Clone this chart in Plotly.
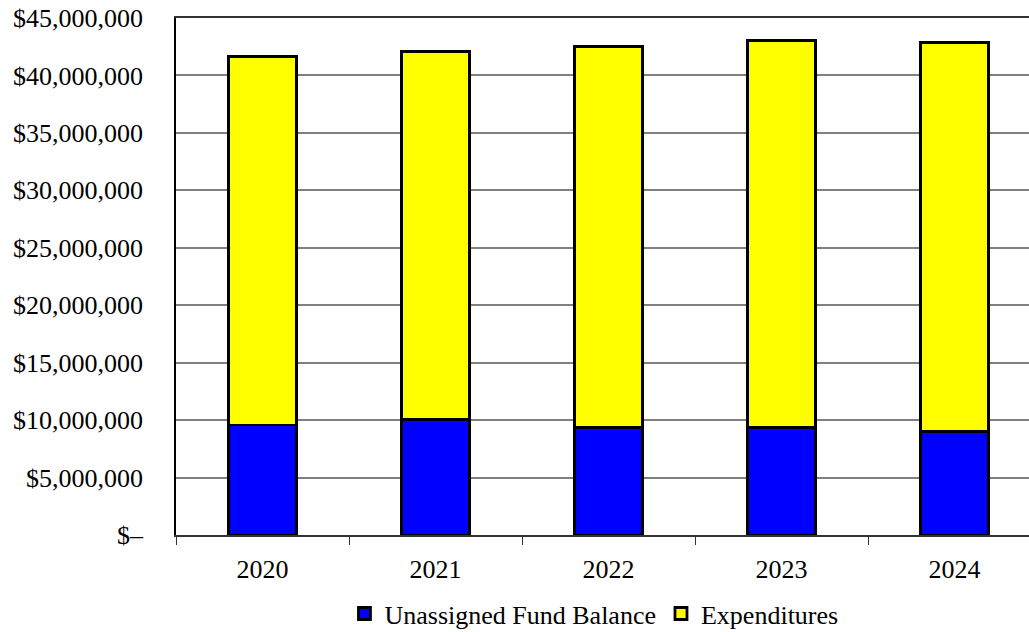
import plotly.graph_objects as go

years = ["2020", "2021", "2022", "2023", "2024"]
fund_balance = [9570000, 10060000, 9390000, 9390000, 9020000]
expenditures = [32110000, 32050000, 33160000, 33630000, 33820000]

tick_vals = [0, 5e6, 10e6, 15e6, 20e6, 25e6, 30e6, 35e6, 40e6, 45e6]
tick_text = ["$–", "$5,000,000", "$10,000,000", "$15,000,000", "$20,000,000",
             "$25,000,000", "$30,000,000", "$35,000,000", "$40,000,000", "$45,000,000"]

FAMILY = "Liberation Serif, DejaVu Serif, serif"
font = dict(family=FAMILY, size=26, color="black")

fig = go.Figure()
fig.add_trace(go.Bar(x=years, y=fund_balance, name="Unassigned Fund Balance",
                     marker=dict(color="#0000FF", line=dict(color="black", width=2.8))))
fig.add_trace(go.Bar(x=years, y=expenditures, name="Expenditures",
                     marker=dict(color="#FFFF00", line=dict(color="black", width=2.8))))

fig.update_layout(
    width=1029, height=632,
    margin=dict(l=176, r=0, t=18, b=97, autoexpand=False),
    barmode="stack", bargap=0.61,
    plot_bgcolor="white", paper_bgcolor="white",
    font=font,
    showlegend=True,
    legend=dict(orientation="h", x=0.49, xanchor="center", y=-0.152, yanchor="middle",
                font=dict(family=FAMILY, size=26, color="black"),
                itemwidth=30, traceorder="normal"),
)
fig.update_xaxes(
    type="category", range=[-0.5, 4.43], automargin=False,
    showline=True, linecolor="#333333", linewidth=1.5, mirror=True,
    ticks="outside", tickson="boundaries", ticklen=8, tickcolor="#333333",
    ticklabelstandoff=10,
    showgrid=False, tickfont=font,
)
fig.update_yaxes(
    range=[0, 45e6], tickvals=tick_vals, ticktext=tick_text, automargin=False,
    ticklabeloverflow="allow",
    showgrid=True, gridcolor="#808080", gridwidth=1.5,
    showline=True, linecolor="black", linewidth=1.5,
    ticks="", ticklabelstandoff=26, tickfont=font, zeroline=False,
)

fig.write_html(
    "out.html",
    config={"displayModeBar": False},
    post_script="document.body.style.margin='0';document.body.style.overflow='hidden';",
)
